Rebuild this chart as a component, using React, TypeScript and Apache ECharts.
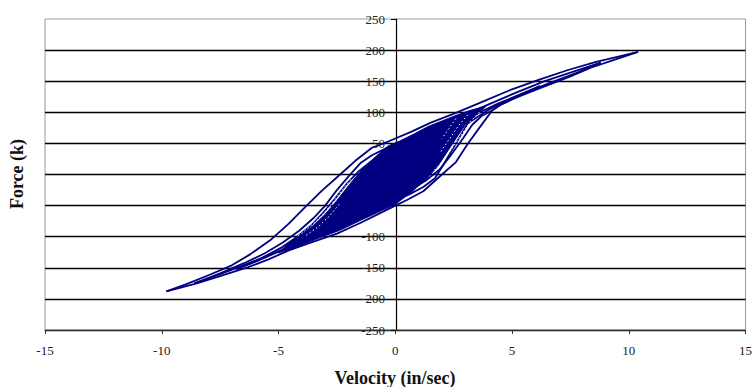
import React, { useEffect, useRef } from "react";
import * as echarts from "echarts";

// Tick labels
const xTicks = [-15, -10, -5, 0, 5, 10, 15];
const yTicks = [-250, -200, -150, -100, -50, 0, 50, 100, 150, 200, 250];

// Outer loop (largest cycle): upper branch left->right, lower branch right->left
const loopAUpper: number[][] = [
  [-9.8, -188], [-9.0, -177], [-8.0, -162], [-7.0, -146], [-6.2, -128], [-5.3, -104],
  [-4.56, -79], [-3.85, -52], [-3.14, -26], [-2.3, 2], [-1.71, 22], [-1.0, 43],
  [-0.3, 53], [0.7, 69], [1.5, 83], [2.6, 99], [3.8, 118], [5.0, 137], [6.2, 153],
  [7.4, 168], [8.6, 181], [9.6, 190], [10.4, 197],
];
const loopALower: number[][] = [
  [10.4, 197], [9.5, 186], [8.4, 172], [7.4, 156], [6.2, 139], [5.2, 124], [4.5, 112],
  [4.15, 103], [3.6, 75], [3.1, 49], [2.6, 20], [2.0, 0], [1.2, -27], [0.5, -41], [0, -50],
  [-0.8, -65], [-1.5, -78], [-2.5, -95], [-3.5, -108], [-4.56, -122], [-5.4, -136],
  [-6.3, -149], [-7.3, -161], [-8.5, -175], [-9.8, -188],
];

// Second loop
const loopBUpper: number[][] = [
  [-8.6, -175], [-7.5, -159], [-6.5, -143], [-5.6, -127], [-4.8, -109], [-4.1, -90],
  [-3.5, -70], [-3.0, -50], [-2.5, -25], [-2.0, -3], [-1.5, 18], [-1.0, 31], [-0.4, 42],
  [0.3, 52], [1.2, 66], [2.2, 83], [3.2, 100], [4.2, 116], [5.2, 132], [6.4, 150],
  [7.6, 165], [8.8, 180],
];
const loopBLower: number[][] = [
  [8.8, 180], [7.8, 164], [6.6, 147], [5.4, 129], [4.6, 116], [4.0, 104], [3.5, 92],
  [3.1, 82], [2.6, 50], [2.1, 18], [1.7, -6], [1.2, -20], [0.6, -32], [0, -42],
  [-0.8, -55], [-1.7, -70], [-2.7, -88], [-3.7, -104], [-4.7, -119], [-5.7, -134],
  [-6.7, -149], [-7.7, -163], [-8.6, -175],
];

// Third loop
const loopCUpper: number[][] = [
  [-6.8, -152], [-5.8, -136], [-4.9, -118], [-4.2, -100], [-3.6, -82], [-3.1, -62],
  [-2.6, -40], [-2.1, -16], [-1.6, 4], [-1.0, 22], [-0.3, 36], [0.5, 50], [1.4, 64],
  [2.4, 80], [3.4, 96], [4.4, 114], [5.3, 128], [6.2, 142],
];
const loopCLower: number[][] = [
  [6.2, 142], [5.4, 128], [4.6, 114], [4.1, 102], [3.7, 94], [3.3, 80], [2.9, 58],
  [2.4, 32], [1.9, 8], [1.3, -10], [0.6, -26], [-0.2, -40], [-1.0, -54], [-2.0, -72],
  [-3.0, -90], [-4.0, -108], [-5.0, -124], [-5.9, -139], [-6.8, -152],
];

// Gaps between the small inner cycles on the right
const gapR1: number[][] = [
  [3.6, 100], [3.2, 84], [2.8, 62], [2.4, 40], [2.0, 20], [1.6, 4],
];
const gapR2: number[][] = [
  [3.1, 96], [2.7, 78], [2.3, 56], [1.9, 34],
];
const gapR3: number[][] = [
  [2.6, 90], [2.3, 74], [2.0, 58],
];

// Gaps between the small inner cycles on the left
const gapL1: number[][] = [
  [-1.9, -8], [-2.3, -26], [-2.7, -46], [-3.1, -64], [-3.6, -82], [-4.2, -100],
];
const gapL2: number[][] = [
  [-2.4, -48], [-2.8, -66], [-3.3, -84], [-3.9, -100],
];

// Dense core (many overlapping small cycles)
const corePolygon: number[][] = [
  [-5.0, -126], [-4.5, -108], [-4.0, -96], [-3.5, -82], [-3.0, -64], [-2.5, -42],
  [-2.0, -18], [-1.6, 0], [-1.2, 16], [-0.8, 30], [-0.3, 46], [0.2, 54], [0.8, 65],
  [1.4, 77], [2.0, 86], [2.6, 95], [3.2, 103], [3.9, 110], [3.5, 96], [3.0, 80],
  [2.6, 58], [2.2, 35], [1.8, 12], [1.3, -8], [0.7, -28], [0, -48], [-0.7, -60],
  [-1.5, -74], [-2.4, -90], [-3.4, -104], [-4.2, -116],
];

const NAVY = "#000080";
const SERIF = "'Liberation Serif', 'Times New Roman', serif";

function lineSeries(data: number[][]) {
  return {
    type: "line",
    data,
    showSymbol: false,
    symbol: "none",
    silent: true,
    z: 3,
    lineStyle: { color: NAVY, width: 1.8 },
  };
}

function gapSeries(data: number[][]) {
  return {
    type: "line",
    data,
    showSymbol: false,
    symbol: "none",
    silent: true,
    z: 4,
    lineStyle: { color: "#ffffff", width: 1, type: [1.5, 2.5] },
  };
}

export default function App() {
  const ref = useRef<HTMLDivElement>(null);

  useEffect(() => {
    if (!ref.current) return;
    const chart = echarts.init(ref.current, undefined, { renderer: "svg" });
    const option: any = {
      animation: false,
      backgroundColor: "#ffffff",
      grid: {
        left: 45,
        right: 8,
        top: 19,
        bottom: 57,
        show: true,
        borderColor: "#999999",
        borderWidth: 1,
        containLabel: false,
      },
      xAxis: {
        type: "value",
        min: xTicks[0],
        max: xTicks[xTicks.length - 1],
        interval: 5,
        position: "bottom",
        axisLine: { onZero: false, lineStyle: { color: "#303030", width: 1 } },
        axisTick: { show: true, inside: false, length: 4, lineStyle: { color: "#303030" } },
        axisLabel: {
          margin: 14,
          fontFamily: SERIF,
          fontSize: 13,
          color: "#222",
        },
        splitLine: { show: false },
      },
      yAxis: {
        type: "value",
        min: yTicks[0],
        max: yTicks[yTicks.length - 1],
        interval: 50,
        position: "left",
        offset: -351,
        axisLine: { show: true, onZero: false, lineStyle: { color: "#000", width: 1.2 } },
        axisTick: { show: true, inside: false, length: 5, lineStyle: { color: "#000" } },
        axisLabel: {
          margin: 11,
          fontFamily: SERIF,
          fontSize: 13,
          color: "#222",
        },
        splitLine: {
          show: true,
          showMaxLine: false,
          lineStyle: { color: "#000", width: 1.4 },
        },
      },
      graphic: [
        {
          type: "text",
          x: 395,
          y: 378,
          style: {
            text: "Velocity (in/sec)",
            fontFamily: SERIF,
            fontWeight: "bold",
            fontSize: 18,
            fill: "#111",
            align: "center",
            verticalAlign: "middle",
          },
        },
        {
          type: "text",
          x: 17,
          y: 174,
          rotation: Math.PI / 2,
          style: {
            text: "Force (k)",
            fontFamily: SERIF,
            fontWeight: "bold",
            fontSize: 18,
            fill: "#111",
            align: "center",
            verticalAlign: "middle",
          },
        },
      ],
      series: [
        {
          type: "custom",
          silent: true,
          z: 2,
          data: corePolygon,
          encode: { x: 0, y: 1 },
          renderItem: (params: any, api: any) => {
            if (params.dataIndex !== 0) return null;
            const pts = corePolygon.map((p) => api.coord(p));
            return {
              type: "polygon",
              shape: { points: pts },
              style: { fill: NAVY, stroke: NAVY, lineWidth: 1 },
            };
          },
        },
        lineSeries(loopAUpper),
        lineSeries(loopALower),
        lineSeries(loopBUpper),
        lineSeries(loopBLower),
        lineSeries(loopCUpper),
        lineSeries(loopCLower),
        gapSeries(gapR1),
        gapSeries(gapR2),
        gapSeries(gapR3),
        gapSeries(gapL1),
        gapSeries(gapL2),
      ],
    };
    chart.setOption(option);
    return () => chart.dispose();
  }, []);

  return <div ref={ref} style={{ width: 755, height: 387, position: "absolute", left: 0, top: 0 }} />;
}
